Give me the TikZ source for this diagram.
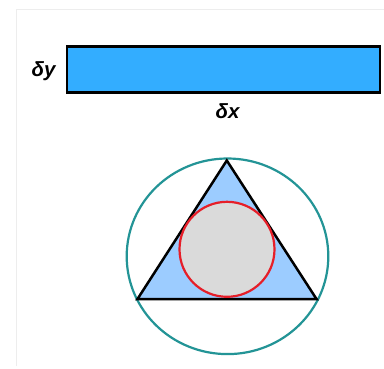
\documentclass[tikz,border=0pt]{standalone}
\usepackage{fontspec}
\setmainfont{Liberation Sans}
\begin{document}
\begin{tikzpicture}[x=1pt,y=-1pt,
  lbl/.style={font=\fontsize{20.5}{24}\selectfont\bfseries\itshape, inner sep=0pt},
  framecol/.style={draw=black!7, line width=1pt}]
\definecolor{rectblue}{RGB}{51,173,255}
\definecolor{triblue}{RGB}{156,204,255}
\definecolor{incirc}{RGB}{218,218,218}
\definecolor{redc}{RGB}{230,30,40}
\definecolor{tealc}{RGB}{35,148,150}
\useasboundingbox (0,0) rectangle (384,368);
\fill[white] (0,0) rectangle (384,368);
\draw[framecol] (16.5,366) -- (16.5,9.5) -- (384,9.5);
\node[draw=black, line width=2.8pt, fill=rectblue, minimum width=313pt, minimum height=46pt, inner sep=0pt] (bar) at (223.5,69.5) {};
\node[lbl] (dy) at (43.5,71) {δy};
\node[lbl] (dx) at (227.5,110.7) {δx};
\draw[tealc, line width=2.2pt] (227.5,256.3) ellipse [x radius=100.8, y radius=97.8];
\coordinate (A) at (226.8,160.5);
\coordinate (B) at (137.5,299);
\coordinate (C) at (316.5,299);
\draw[black, line width=2.5pt, fill=triblue, line join=miter] (A) -- (B) -- (C) -- cycle;
\draw[redc, line width=2.2pt, fill=incirc] (227,249.3) circle [radius=47.5];
\end{tikzpicture}
\end{document}
